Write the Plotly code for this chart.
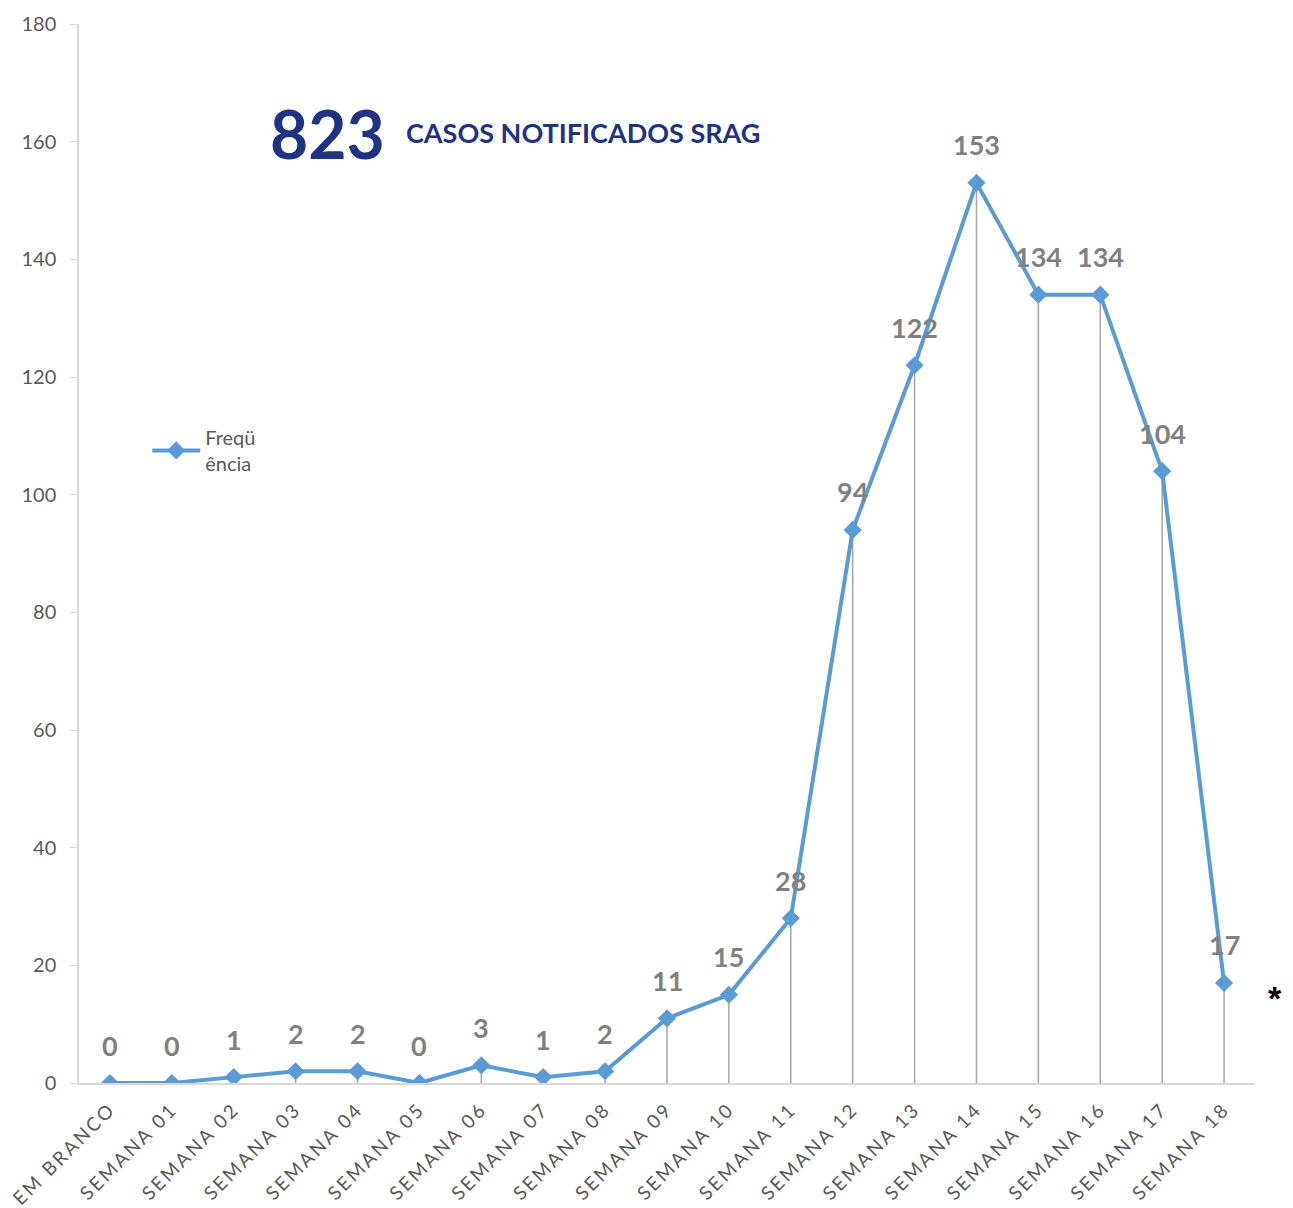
import plotly.graph_objects as go

categories = ["EM BRANCO", "SEMANA 01", "SEMANA 02", "SEMANA 03", "SEMANA 04",
              "SEMANA 05", "SEMANA 06", "SEMANA 07", "SEMANA 08", "SEMANA 09",
              "SEMANA 10", "SEMANA 11", "SEMANA 12", "SEMANA 13", "SEMANA 14",
              "SEMANA 15", "SEMANA 16", "SEMANA 17", "SEMANA 18"]
frequencia = [0, 0, 1, 2, 2, 0, 3, 1, 2, 11, 15, 28, 94, 122, 153, 134, 134, 104, 17]
total_casos = 823
titulo = "CASOS NOTIFICADOS SRAG"
serie_nome = "Freqü<br>ência"

FONT = "Lato"
BLUE = "#5B9BD5"
NAVY = "#1F3283"
GREY_TXT = "#595959"
LABEL_GREY = "#808080"
AXIS_GREY = "#D9D9D9"

fig = go.Figure()

# drop lines from each point to the axis
dx, dy = [], []
for c, v in zip(categories, frequencia):
    dx += [c, c, None]
    dy += [0, v, None]
fig.add_trace(go.Scatter(x=dx, y=dy, mode="lines",
                         line=dict(color="#A6A6A6", width=1.5),
                         showlegend=False, hoverinfo="skip"))

fig.add_trace(go.Scatter(x=categories, y=frequencia, mode="lines+markers",
                         name=serie_nome,
                         line=dict(color=BLUE, width=4),
                         marker=dict(symbol="diamond", size=14, color=BLUE)))

for c, v in zip(categories, frequencia):
    fig.add_annotation(x=c, y=v, text=str(v), showarrow=False, yshift=38,
                       font=dict(family=FONT, size=27, color=LABEL_GREY, weight="bold"))

fig.add_annotation(xref="paper", yref="paper", x=0.1606, y=0.897, xanchor="left",
                   yanchor="middle", text=f"<b>{total_casos}</b>", showarrow=False,
                   font=dict(family=FONT, size=66, color=NAVY))
fig.add_annotation(xref="paper", yref="paper", x=0.2765, y=0.898, xanchor="left",
                   yanchor="middle", text=f"<b>{titulo}</b>", showarrow=False,
                   font=dict(family=FONT, size=27, color=NAVY))
fig.add_annotation(xref="paper", yref="paper", x=1.0245, y=0.08, xanchor="right",
                   yanchor="middle", text="<b>*</b>", showarrow=False,
                   font=dict(family="Liberation Sans", size=34, color="#000000"))

ticktext = [f'<span style="letter-spacing:2.5px">{c}</span>' for c in categories]

fig.update_layout(
    width=1285, height=1200,
    margin=dict(l=71, r=38, t=16, b=125, autoexpand=False),
    paper_bgcolor="white", plot_bgcolor="white",
    font=dict(family=FONT, color=GREY_TXT),
    showlegend=True,
    legend=dict(x=0.058, y=0.628, xanchor="left", yanchor="top",
                font=dict(family=FONT, size=20, color=GREY_TXT),
                bgcolor="rgba(0,0,0,0)", itemwidth=48),
    xaxis=dict(type="category", range=[-0.5, len(categories) - 0.5],
               tickmode="array", tickvals=categories, ticktext=ticktext,
               tickangle=-45, showgrid=False, showline=True, linecolor=AXIS_GREY,
               linewidth=1.5, ticks="", automargin=False, ticklabelstandoff=6,
               tickfont=dict(family=FONT, size=19, color=GREY_TXT)),
    yaxis=dict(range=[0, 180], dtick=20, showgrid=False, showline=True,
               linecolor=AXIS_GREY, linewidth=1.5, ticks="outside", ticklen=7,
               tickcolor=AXIS_GREY, zeroline=False, automargin=False,
               ticklabelstandoff=10,
               tickfont=dict(family=FONT, size=20, color=GREY_TXT)),
)

fig.write_html("out.html")
